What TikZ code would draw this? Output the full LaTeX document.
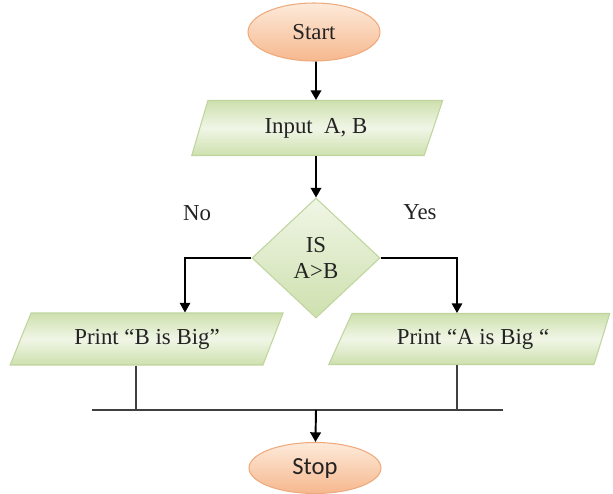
\documentclass[tikz,border=0pt]{standalone}
\usepackage{fontspec}
\setmainfont{Liberation Serif}
\newfontfamily\stopfont{Carlito}
\usetikzlibrary{arrows.meta,positioning,calc,shapes.geometric}
\definecolor{peachlight}{RGB}{253,234,218}
\definecolor{peachdark}{RGB}{246,184,142}
\definecolor{peachline}{RGB}{238,170,124}
\definecolor{greenlight}{RGB}{240,246,230}
\definecolor{greendark}{RGB}{206,224,174}
\definecolor{greenline}{RGB}{192,212,158}
\definecolor{inktext}{RGB}{35,35,35}
\tikzset{
  flow/.style={-{Triangle[width=6pt,length=5.5pt]}, line width=1.1pt, draw=black},
  rule/.style={line width=0.6pt, draw=black!75},
  terminal/.style={ellipse, draw=peachline, line width=0.6pt, top color=peachlight, bottom color=peachdark,
    minimum width=2.64cm, minimum height=1.16cm, inner sep=0pt, text=inktext, font=\fontsize{13}{15}\selectfont},
  io/.style={trapezium, trapezium stretches body, draw=greenline, line width=0.6pt,
    top color=greendark, bottom color=greendark, middle color=greenlight,
    inner sep=0pt, text=inktext, font=\fontsize{13}{15}\selectfont},
  decision/.style={diamond, draw=greenline, line width=0.6pt, top color=greenlight, bottom color=greendark,
    minimum width=2.56cm, minimum height=2.4cm, inner sep=0pt, align=center, text=inktext,
    font=\fontsize{13}{15}\selectfont},
  branch/.style={text=inktext, font=\fontsize{13}{15}\selectfont}
}

\begin{document}
\begin{tikzpicture}[x=0.02cm, y=-0.02cm]
  \useasboundingbox (0,0) rectangle (613,494);
  % main column
  \node[terminal] (start) at (314,32) {Start};
  \node[io, minimum width=5.02cm, minimum height=1.1cm,
    trapezium left angle=51, trapezium right angle=133] (input) at (316,128) {Input\ \ A, B};
  \node[decision] (cond) at (316,258) {IS\\A>B};
  \node[branch] at (197,213) {No};
  \node[branch] at (420,212) {Yes};

  % the two outputs
  \node[io, minimum width=5.46cm, minimum height=1.04cm,
    trapezium left angle=44, trapezium right angle=135] (bprint) at (147,339) {Print “B is Big”};
  \node[io, minimum width=5.62cm, minimum height=1.02cm,
    trapezium left angle=41, trapezium right angle=128] (aprint) at (473,339) {Print “A is Big “};

  \node[terminal, font=\stopfont\fontsize{14}{16}\selectfont, minimum height=1.02cm] (stop) at (315,468) {Stop};

  \coordinate (busl) at (92,410);
  \coordinate (busr) at (503,410);
  \coordinate (bl) at (136,410);
  \coordinate (br) at (457,410);
  \coordinate (bus) at (316,410);

  \draw[flow] (start.south -| input) -- (input);
  \draw[flow] (input) -- (cond);
  \draw[flow, line width=0.8pt] (cond.west) -| ([xshift=0.76cm]bprint.north);
  \draw[flow, line width=0.8pt] (cond.east) -| (aprint.north -| br);
  \draw[rule] (bprint.south -| bl) -- (bl);
  \draw[rule] (aprint.south -| br) -- (br);
  \draw[rule] (busl) -- (busr);
  \draw[flow] (bus) -- (stop);
\end{tikzpicture}
\end{document}
